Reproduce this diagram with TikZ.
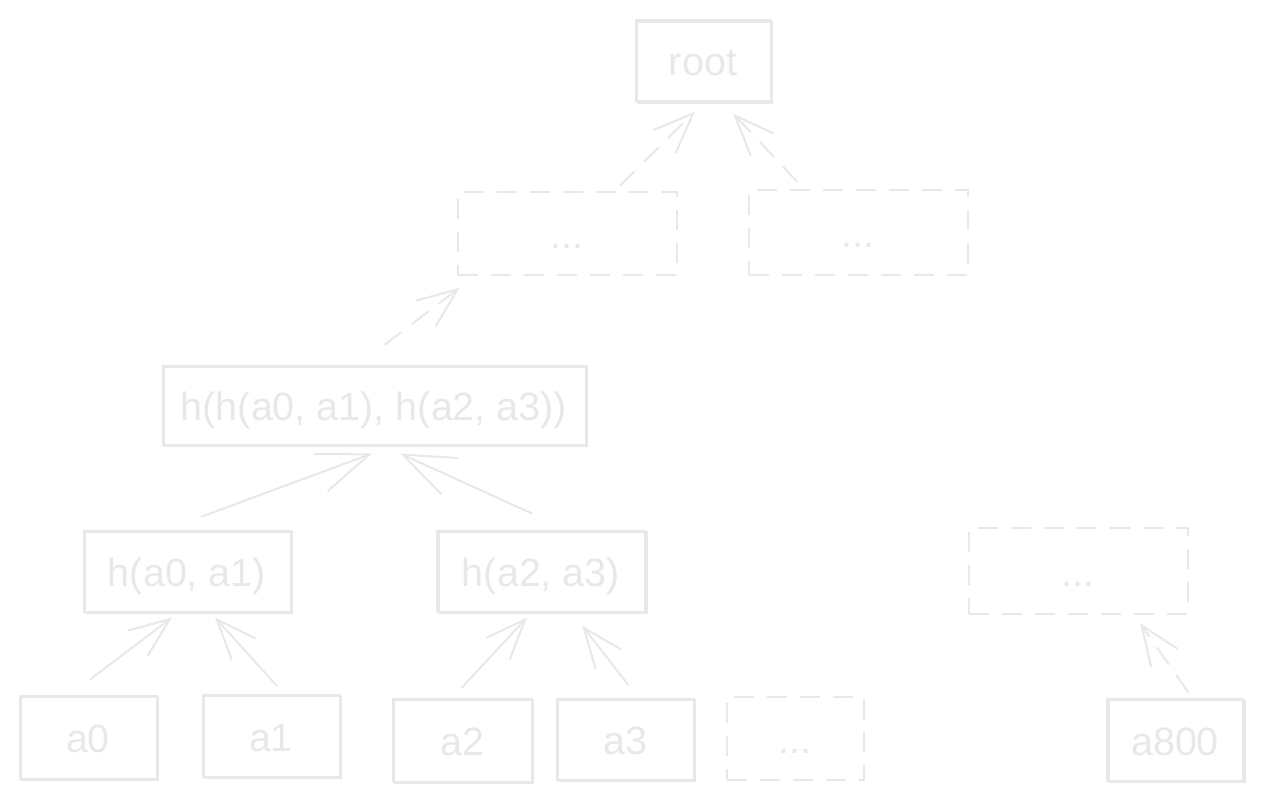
\documentclass[tikz,border=0pt]{standalone}
\usepackage{fontspec}
\setmainfont{Liberation Sans}
\usetikzlibrary{arrows.meta,calc}
\definecolor{sk}{RGB}{232,232,232}
\tikzset{
  lbl/.style={inner sep=0pt, text=sk, font=\fontsize{39.5}{46}\selectfont,
    text height=33pt, text depth=3pt},
  box/.style={lbl, draw=sk, line width=2pt,
    postaction={draw=sk, line width=1.6pt, transform canvas={shift={(1.8pt,-1.4pt)}}}},
  dbox/.style={lbl, draw=sk, line width=2pt, dash pattern=on 20pt off 13pt},
  arr/.style={draw=sk, line width=2pt, line cap=round,
    -{Straight Barb[length=40pt,width=32pt,line width=2pt]}},
  bigarr/.style={draw=sk, line width=2pt, line cap=round,
    -{Straight Barb[length=52pt,width=40pt,line width=2pt]}},
  darr/.style={arr, dash pattern=on 20pt off 14pt},
}
\begin{document}
\begin{tikzpicture}[x=1pt,y=-1pt]
\useasboundingbox (0,0) rectangle (1263,802);
% nodes
\node[box,  minimum width=135pt, minimum height=81pt] (root) at (703,61) {root};
\node[dbox, minimum width=219pt, minimum height=83pt] (d1) at (567,234) {...};
\node[dbox, minimum width=219pt, minimum height=85pt] (d2) at (858,233) {...};
\node[box,  minimum width=423pt, minimum height=79pt] (hh) at (374,405) {h(h(a0, a1), h(a2, a3))};
\node[box,  minimum width=207pt, minimum height=81pt] (h01) at (187,571) {h(a0, a1)};
\node[box,  minimum width=208pt, minimum height=81pt] (h23) at (541,571) {h(a2, a3)};
\node[dbox, minimum width=219pt, minimum height=86pt] (d3) at (1078,571) {...};
\node[box,  minimum width=137pt, minimum height=83pt] (a0) at (88,737) {a0};
\node[box,  minimum width=137pt, minimum height=82pt] (a1) at (271,736) {a1};
\node[box,  minimum width=139pt, minimum height=83pt] (a2) at (462,740) {a2};
\node[box,  minimum width=137pt, minimum height=81pt] (a3) at (625,739) {a3};
\node[dbox, minimum width=137pt, minimum height=83pt] (d4) at (795,738) {...};
\node[box,  minimum width=136pt, minimum height=82pt] (a800) at (1175,740) {a800};
% connectors
\draw[darr] ($(d1.north)+(53,-6)$) -- ($(root.south)+(-8,9)$);
\draw[darr] ($(d2.north)+(-61,-8)$) -- ($(root.south)+(30,11)$);
\draw[darr] ($(hh.north)+(11,-20)$) -- ($(d1.south)+(-107,11)$);
\draw[bigarr] ($(h01.north)+(15,-13)$) -- ($(hh.south)+(-2,8)$);
\draw[bigarr] ($(h23.north)+(-9,-16)$) -- ($(hh.south)+(26,8)$);
\draw[arr] ($(a0.north)+(2,-15)$) -- ($(h01.south)+(-15,5)$);
\draw[arr] ($(a1.north)+(6,-8)$) -- ($(h01.south)+(28,5)$);
\draw[arr] ($(a2.north)+(0,-10)$) -- ($(h23.south)+(-14,5)$);
\draw[arr] ($(a3.north)+(3,-13)$) -- ($(h23.south)+(41,13)$);
\draw[darr] ($(a800.north)+(13,-6)$) -- ($(d3.south)+(62,8)$);
\end{tikzpicture}
\end{document}
